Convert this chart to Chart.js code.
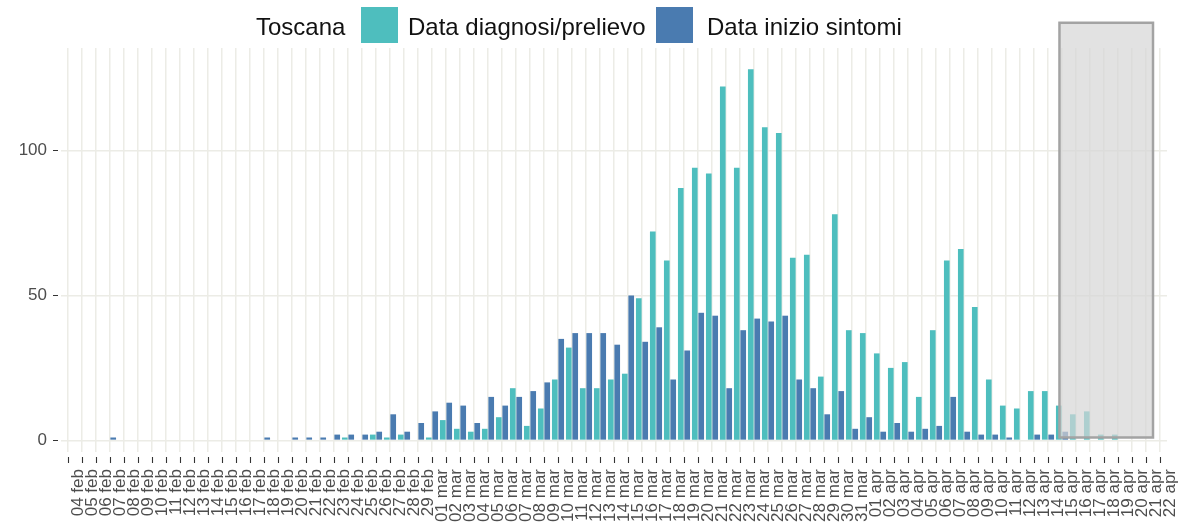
<!DOCTYPE html>
<html>
<head>
<meta charset="utf-8">
<script src="https://cdn.jsdelivr.net/npm/chart.js@4.4.1/dist/chart.umd.min.js"></script>
<style>
  html, body { margin: 0; padding: 0; background: #ffffff; }
  #wrap { position: relative; width: 1192px; height: 524px; overflow: hidden; font-family: "Liberation Sans", Arial, sans-serif; }
  #c { position: absolute; left: 0; top: 0; }
  .lg { position: absolute; top: 15px; font-size: 24px; line-height: 24px; color: #111; white-space: nowrap; }
  .key { position: absolute; top: 7px; width: 37px; height: 36px; box-sizing: border-box; }
</style>
</head>
<body>
<div id="wrap">
  <canvas id="c" width="1192" height="524"></canvas>
  <div class="lg" id="lgTitle" style="left:256px"></div>
  <div class="key" id="key0" style="left:361px"></div>
  <div class="lg" id="lgText0" style="left:408px"></div>
  <div class="key" id="key1" style="left:656px"></div>
  <div class="lg" id="lgText1" style="left:707px"></div>
</div>
<script>
// ---- data ----
const legendTitle = "Toscana";
const seriesNames = ["Data diagnosi/prelievo", "Data inizio sintomi"];

const dateLabels = [
  "04 feb","05 feb","06 feb","07 feb","08 feb","09 feb","10 feb","11 feb","12 feb","13 feb",
  "14 feb","15 feb","16 feb","17 feb","18 feb","19 feb","20 feb","21 feb","22 feb","23 feb",
  "24 feb","25 feb","26 feb","27 feb","28 feb","29 feb",
  "01 mar","02 mar","03 mar","04 mar","05 mar","06 mar","07 mar","08 mar","09 mar","10 mar",
  "11 mar","12 mar","13 mar","14 mar","15 mar","16 mar","17 mar","18 mar","19 mar","20 mar",
  "21 mar","22 mar","23 mar","24 mar","25 mar","26 mar","27 mar","28 mar","29 mar","30 mar",
  "31 mar",
  "01 apr","02 apr","03 apr","04 apr","05 apr","06 apr","07 apr","08 apr","09 apr","10 apr",
  "11 apr","12 apr","13 apr","14 apr","15 apr","16 apr","17 apr","18 apr","19 apr","20 apr",
  "21 apr","22 apr"
];

const diagnosi = [
  0,0,0,0,0,0,0,0,0,0,
  0,0,0,0,0,0,0,0,0,0,
  1,0,2,1,2,0,
  1,7,4,3,4,8,18,5,11,21,
  32,18,18,21,23,49,72,62,87,94,
  92,122,94,128,108,106,63,64,22,78,
  38,
  37,30,25,27,15,38,62,66,46,21,
  12,11,17,17,12,9,10,2,2,0,
  0,0
];

const sintomi = [
  0,0,0,1,0,0,0,0,0,0,
  0,0,0,0,1,0,1,1,1,2,
  2,2,3,9,3,6,
  10,13,12,6,15,12,15,17,20,35,
  37,37,37,33,50,34,39,21,31,44,
  43,18,38,42,41,43,21,18,9,17,
  4,
  8,3,6,3,4,5,15,3,2,2,
  1,0,2,2,3,0,0,0,0,0,
  0,0
];

const yTicks = [0, 50, 100];

// shaded "incomplete data" window, in category-index / value units
const shadeX = [70.82, 77.5];
const shadeY = [1, 144];

// ---- styles ----
const colTeal = "#4EBEBE";
const colBlue = "#4A7BB0";
const gridCol = "#ECECE6";
const axisTextCol = "#4D4D4D";
const FONT = "'Liberation Sans', Arial, sans-serif";

document.getElementById("lgTitle").textContent = legendTitle;
document.getElementById("lgText0").textContent = seriesNames[0];
document.getElementById("lgText1").textContent = seriesNames[1];
document.getElementById("key0").style.background = colTeal;
document.getElementById("key1").style.background = colBlue;

const shadePlugin = {
  id: "shade",
  afterDatasetsDraw(chart) {
    const { ctx, scales: { x, y } } = chart;
    const x1 = x.getPixelForValue(shadeX[0]);
    const x2 = x.getPixelForValue(shadeX[1]);
    const y1 = y.getPixelForValue(shadeY[1]);
    const y2 = y.getPixelForValue(shadeY[0]);
    ctx.save();
    ctx.fillStyle = "rgba(214,214,214,0.7)";
    ctx.fillRect(x1, y1, x2 - x1, y2 - y1);
    ctx.strokeStyle = "#A3A3A3";
    ctx.lineWidth = 2.5;
    ctx.strokeRect(x1, y1, x2 - x1, y2 - y1);
    ctx.restore();
  }
};

const tickMarkPlugin = {
  id: "tickMarks",
  afterDraw(chart) {
    const { ctx, chartArea, scales: { x, y } } = chart;
    ctx.save();
    ctx.strokeStyle = "#333333";
    ctx.lineWidth = 1.1;
    ctx.beginPath();
    x.ticks.forEach((t, i) => {
      const px = Math.round(x.getPixelForTick(i)) + 0.5;
      ctx.moveTo(px, chartArea.bottom + 5);
      ctx.lineTo(px, chartArea.bottom + 11);
    });
    y.ticks.forEach((t, i) => {
      const py = Math.round(y.getPixelForTick(i)) + 0.5;
      ctx.moveTo(chartArea.left - 8, py);
      ctx.lineTo(chartArea.left - 3, py);
    });
    ctx.stroke();
    ctx.restore();
  }
};

new Chart(document.getElementById("c"), {
  type: "bar",
  data: {
    labels: dateLabels,
    datasets: [
      { label: seriesNames[0], data: diagnosi, backgroundColor: colTeal, borderWidth: 0 },
      { label: seriesNames[1], data: sintomi, backgroundColor: colBlue, borderWidth: 0 }
    ]
  },
  options: {
    responsive: false,
    animation: false,
    categoryPercentage: 0.92,
    barPercentage: 0.88,
    layout: { padding: { left: 0, right: 25, top: 48, bottom: 0 } },
    plugins: { legend: { display: false }, tooltip: { enabled: false } },
    scales: {
      x: {
        offset: true,
        border: { display: false },
        grid: { offset: false, color: gridCol, lineWidth: 1.5, drawTicks: false },
        ticks: {
          autoSkip: false, maxRotation: 90, minRotation: 90, padding: 17, labelOffset: 10,
          color: axisTextCol, font: { size: 17, family: FONT }
        },
        afterFit(s) { s.height = 72; s.paddingLeft = 0; s.paddingRight = 0; }
      },
      y: {
        min: -4, max: 135.3,
        border: { display: false },
        grid: { color: gridCol, lineWidth: 1.5, drawTicks: false },
        ticks: {
          stepSize: 50, includeBounds: false, padding: 14,
          color: axisTextCol, font: { size: 17, family: FONT }
        },
        afterBuildTicks(s) { s.ticks = s.ticks.filter(t => yTicks.includes(t.value)); },
        afterFit(s) { s.width = 61; s.paddingTop = 0; s.paddingBottom = 0; }
      }
    }
  },
  plugins: [shadePlugin, tickMarkPlugin]
});
</script>
</body>
</html>
